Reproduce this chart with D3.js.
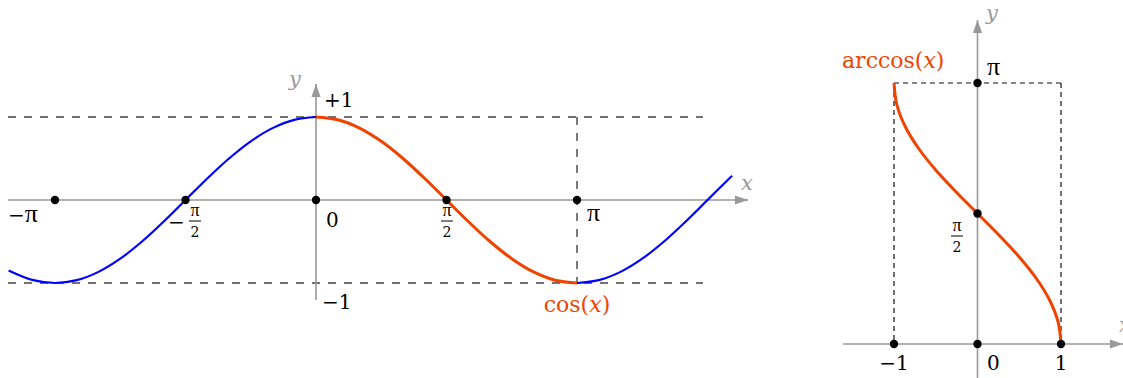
<!DOCTYPE html>
<html>
<head>
<meta charset="utf-8">
<script src="https://cdn.jsdelivr.net/npm/d3@7"></script>
<style>
  body { margin: 0; background: #fff; }
  text { font-family: "DejaVu Serif", serif; }
  .pi { font-family: "Liberation Serif", serif; }
</style>
</head>
<body>
<div id="chart"></div>
<script>
const leftDeg  = [-212, -195, -180, -165, -150, -135, -120, -105, -90, -75, -60, -45, -30, -15, 0];
const leftCos  = [-0.848, -0.966, -1, -0.966, -0.866, -0.707, -0.5, -0.259, 0, 0.259, 0.5, 0.707, 0.866, 0.966, 1];
const mainDeg  = [0, 15, 30, 45, 60, 75, 90, 105, 120, 135, 150, 165, 180];
const mainCos  = [1, 0.966, 0.866, 0.707, 0.5, 0.259, 0, -0.259, -0.5, -0.707, -0.866, -0.966, -1];
const rightDeg = [180, 195, 210, 225, 240, 255, 270, 285, 287];
const rightCos = [-1, -0.966, -0.866, -0.707, -0.5, -0.259, 0, 0.259, 0.292];

// marked points
const cosDots   = [-180, -90, 0, 90, 180];      // on the x axis, degrees
const acosXDots = [-1, 0, 1];                    // on the x axis
const acosYDots = [90, 180];                     // on the y axis, degrees

const red = '#ee4400', blue = '#0000ff', axisGray = '#999', dashGray = '#444';

const svg = d3.select('#chart').append('svg')
  .attr('width', 1123).attr('height', 378);

const defs = svg.append('defs');
defs.append('marker')
  .attr('id', 'arrow').attr('viewBox', '0 0 10 10')
  .attr('refX', 10).attr('refY', 5)
  .attr('markerWidth', 13).attr('markerHeight', 13)
  .attr('markerUnits', 'userSpaceOnUse')
  .attr('orient', 'auto')
  .append('path').attr('d', 'M0,1.5 L10,5 L0,8.5 Z').attr('fill', axisGray);

// ---------- left plot: cos(x) ----------
const x1 = d3.scaleLinear().domain([-180, 180]).range([55, 577]);
const y1 = d3.scaleLinear().domain([-1, 1]).range([283, 117]);
const g1 = svg.append('g');

// dashed guides
g1.selectAll('line.guide').data([1, -1]).enter().append('line')
  .attr('x1', 8).attr('x2', 703)
  .attr('y1', d => y1(d)).attr('y2', d => y1(d))
  .attr('stroke', dashGray).attr('stroke-width', 1.4).attr('stroke-dasharray', '8,8');
g1.append('line')
  .attr('x1', x1(180)).attr('x2', x1(180))
  .attr('y1', y1(1)).attr('y2', y1(-1))
  .attr('stroke', dashGray).attr('stroke-width', 1.4).attr('stroke-dasharray', '8,8');

// axes
g1.append('line')
  .attr('x1', 8).attr('x2', 748).attr('y1', y1(0)).attr('y2', y1(0))
  .attr('stroke', axisGray).attr('stroke-width', 1.6).attr('marker-end', 'url(#arrow)');
g1.append('line')
  .attr('x1', x1(0)).attr('x2', x1(0)).attr('y1', 300).attr('y2', 84)
  .attr('stroke', axisGray).attr('stroke-width', 1.6).attr('marker-end', 'url(#arrow)');
g1.append('text').text('x').attr('x', 741).attr('y', 190)
  .attr('font-style', 'italic').attr('font-size', 21).attr('fill', axisGray);
g1.append('text').text('y').attr('x', 289).attr('y', 86)
  .attr('font-style', 'italic').attr('font-size', 21).attr('fill', axisGray);

const line1 = d3.line().x(d => x1(d[0])).y(d => y1(d[1])).curve(d3.curveCatmullRom);
g1.append('path').datum(d3.zip(leftDeg, leftCos)).attr('d', line1)
  .attr('fill', 'none').attr('stroke', blue).attr('stroke-width', 2.2);
g1.append('path').datum(d3.zip(rightDeg, rightCos)).attr('d', line1)
  .attr('fill', 'none').attr('stroke', blue).attr('stroke-width', 2.2);
g1.append('path').datum(d3.zip(mainDeg, mainCos)).attr('d', line1)
  .attr('fill', 'none').attr('stroke', red).attr('stroke-width', 3);

g1.selectAll('circle').data(cosDots).enter().append('circle')
  .attr('cx', d => x1(d)).attr('cy', y1(0)).attr('r', 4.2).attr('fill', '#000');

// tick labels
g1.append('text').attr('x', 8).attr('y', 222).attr('font-size', 20)
  .call(t => { t.append('tspan').text('−'); t.append('tspan').attr('class', 'pi').attr('font-size', 26).text('π'); });
g1.append('text').text('0').attr('x', 326).attr('y', 227).attr('font-size', 20);
g1.append('text').text('π').attr('class', 'pi').attr('x', 587).attr('y', 221).attr('font-size', 26);
g1.append('text').text('+1').attr('x', 324).attr('y', 107).attr('font-size', 20);
g1.append('text').text('−1').attr('x', 322).attr('y', 309).attr('font-size', 20);

function frac(g, cx, top, dy) {
  g.append('text').text('π').attr('class', 'pi').attr('x', cx).attr('y', top)
    .attr('text-anchor', 'middle').attr('font-size', 18);
  g.append('line').attr('x1', cx - 6).attr('x2', cx + 6)
    .attr('y1', top + dy).attr('y2', top + dy).attr('stroke', '#000').attr('stroke-width', 1);
  g.append('text').text('2').attr('x', cx).attr('y', top + dy + 16)
    .attr('text-anchor', 'middle').attr('font-size', 14);
}
g1.append('text').text('−').attr('x', 168).attr('y', 229).attr('font-size', 20);
frac(g1, 195, 216, 5);
frac(g1, 447, 216, 5);

g1.append('text').attr('x', x1(180)).attr('y', 312).attr('text-anchor', 'middle')
  .attr('font-size', 22).attr('fill', red)
  .call(t => {
    t.append('tspan').text('cos(');
    t.append('tspan').text('x').attr('font-style', 'italic');
    t.append('tspan').text(')');
  });

// ---------- right plot: arccos(x) ----------
const x2 = d3.scaleLinear().domain([-1, 1]).range([894, 1061]);
const y2 = d3.scaleLinear().domain([0, 180]).range([344, 83]);
const g2 = svg.append('g');

g2.append('line')
  .attr('x1', x2(-1)).attr('x2', x2(1)).attr('y1', y2(180)).attr('y2', y2(180))
  .attr('stroke', '#111').attr('stroke-width', 1.2).attr('stroke-dasharray', '5,4');
g2.selectAll('line.vguide').data([-1, 1]).enter().append('line')
  .attr('x1', d => x2(d)).attr('x2', d => x2(d)).attr('y1', y2(180)).attr('y2', y2(0))
  .attr('stroke', '#111').attr('stroke-width', 1.2).attr('stroke-dasharray', '5,4');

g2.append('line')
  .attr('x1', 843).attr('x2', 1123).attr('y1', y2(0)).attr('y2', y2(0))
  .attr('stroke', axisGray).attr('stroke-width', 1.6).attr('marker-end', 'url(#arrow)');
g2.append('line')
  .attr('x1', x2(0)).attr('x2', x2(0)).attr('y1', 378).attr('y2', 20)
  .attr('stroke', axisGray).attr('stroke-width', 1.6).attr('marker-end', 'url(#arrow)');
g2.append('text').text('y').attr('x', 986).attr('y', 20)
  .attr('font-style', 'italic').attr('font-size', 21).attr('fill', axisGray);
g2.append('text').text('x').attr('x', 1119).attr('y', 332)
  .attr('font-style', 'italic').attr('font-size', 21).attr('fill', axisGray);

const line2 = d3.line().x(d => x2(d[1])).y(d => y2(d[0])).curve(d3.curveCatmullRom);
g2.append('path').datum(d3.zip(mainDeg, mainCos)).attr('d', line2)
  .attr('fill', 'none').attr('stroke', red).attr('stroke-width', 3);

g2.selectAll('circle.xd').data(acosXDots).enter().append('circle')
  .attr('cx', d => x2(d)).attr('cy', y2(0)).attr('r', 4.2).attr('fill', '#000');
g2.selectAll('circle.yd').data(acosYDots).enter().append('circle')
  .attr('cx', x2(0)).attr('cy', d => y2(d)).attr('r', 4.2).attr('fill', '#000');

g2.append('text').text('−1').attr('x', x2(-1)).attr('y', 370)
  .attr('text-anchor', 'middle').attr('font-size', 20);
g2.append('text').text('0').attr('x', 987).attr('y', 370).attr('font-size', 20);
g2.append('text').text('1').attr('x', x2(1)).attr('y', 370)
  .attr('text-anchor', 'middle').attr('font-size', 20);
g2.append('text').text('π').attr('class', 'pi').attr('x', 987).attr('y', 75).attr('font-size', 26);
frac(g2, 957, 231, 5);

g2.append('text').attr('x', 842).attr('y', 68)
  .attr('font-size', 22).attr('fill', red)
  .call(t => {
    t.append('tspan').text('arccos(');
    t.append('tspan').text('x').attr('font-style', 'italic');
    t.append('tspan').text(')');
  });
</script>
</body>
</html>
